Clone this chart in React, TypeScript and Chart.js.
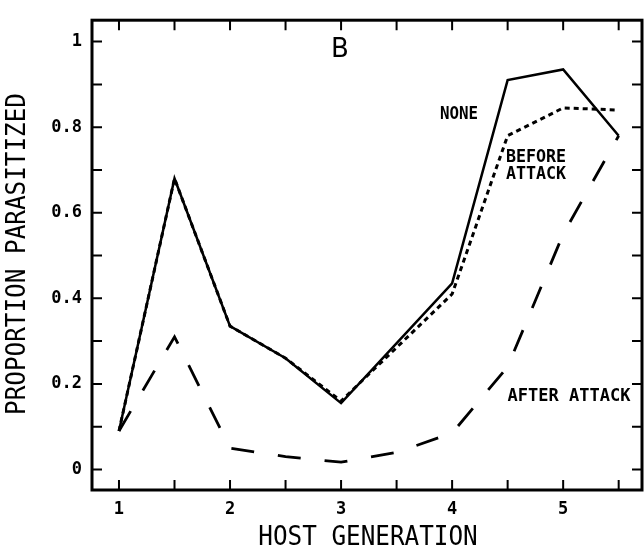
import React, { useEffect, useRef } from "react";
import { Chart, registerables } from "chart.js";

Chart.register(...registerables);

// Host generation (x) and proportion parasitized (y) for the three treatments
const noneGenerations = [1, 1.5, 2, 2.5, 3, 4, 4.5, 5, 5.5];
const noneValues = [0.09, 0.68, 0.335, 0.26, 0.155, 0.435, 0.91, 0.935, 0.78];

const beforeGenerations = [1, 1.5, 2, 2.5, 3, 4, 4.5, 5, 5.5];
const beforeValues = [0.09, 0.68, 0.335, 0.26, 0.16, 0.41, 0.78, 0.845, 0.84];

const afterGenerations = [1, 1.5, 2, 2.5, 3, 3.5, 4, 4.5, 5, 5.5];
const afterValues = [0.09, 0.31, 0.05, 0.03, 0.017, 0.04, 0.085, 0.24, 0.55, 0.78];

// Axis ticks
const xTickValues = [1, 2, 3, 4, 5];
const xTickLabels = ["1", "2", "3", "4", "5"];
const xMarkValues = [1, 1.5, 2, 2.5, 3, 3.5, 4, 4.5, 5, 5.5];
const yTickValues = [0, 0.2, 0.4, 0.6, 0.8, 1];
const yTickLabels = ["0", "0.2", "0.4", "0.6", "0.8", "1"];
const yMarkValues = [0, 0.1, 0.2, 0.3, 0.4, 0.5, 0.6, 0.7, 0.8, 0.9, 1];

const MONO = "'DejaVu Sans Mono', 'Liberation Mono', monospace";

function drawText(
  ctx: CanvasRenderingContext2D,
  text: string,
  x: number,
  y: number,
  font: string,
  sx = 1,
  rotate = 0
) {
  ctx.save();
  ctx.translate(x, y);
  if (rotate) ctx.rotate(rotate);
  ctx.scale(sx, 1);
  ctx.font = font;
  ctx.fillStyle = "#000";
  ctx.textAlign = "center";
  ctx.textBaseline = "middle";
  ctx.fillText(text, 0, 0);
  ctx.restore();
}

// Frame with inward tick marks on all four sides, plus titles and curve labels
const framePlugin = {
  id: "frameAndLabels",
  afterDraw(chart: any) {
    const { ctx, chartArea } = chart;
    const { left, right, top, bottom } = chartArea;
    const xs = chart.scales.x;
    const ys = chart.scales.y;
    const tick = 10;

    ctx.save();
    ctx.strokeStyle = "#000";
    ctx.lineWidth = 3;
    ctx.strokeRect(left, top, right - left, bottom - top);

    ctx.lineWidth = 2;
    ctx.beginPath();
    for (const v of xMarkValues) {
      const px = xs.getPixelForValue(v);
      ctx.moveTo(px, bottom);
      ctx.lineTo(px, bottom - tick);
      ctx.moveTo(px, top);
      ctx.lineTo(px, top + tick);
    }
    for (const v of yMarkValues) {
      const py = ys.getPixelForValue(v);
      ctx.moveTo(left, py);
      ctx.lineTo(left + tick, py);
      ctx.moveTo(right, py);
      ctx.lineTo(right - tick, py);
    }
    ctx.stroke();
    ctx.restore();

    // Axis titles
    drawText(ctx, "HOST GENERATION", 368, 538, `27px ${MONO}`, 0.9);
    drawText(ctx, "PROPORTION PARASITIZED", 18, 254, `27px ${MONO}`, 0.9, -Math.PI / 2);

    // Panel letter and curve labels
    drawText(ctx, "B", 340, 50, "26px 'DejaVu Sans', sans-serif");
    const lab = `bold 17px ${MONO}`;
    drawText(ctx, "NONE", 459, 115, lab, 0.93);
    drawText(ctx, "BEFORE", 536, 158, lab, 0.98);
    drawText(ctx, "ATTACK", 536, 175, lab, 0.98);
    drawText(ctx, "AFTER ATTACK", 569, 397, lab, 1.0);
  },
};

function toPoints(xs: number[], ys: number[]) {
  return xs.map((x, i) => ({ x, y: ys[i] }));
}

export default function App() {
  const canvasRef = useRef<HTMLCanvasElement | null>(null);

  useEffect(() => {
    if (!canvasRef.current) return;
    const tickFont = { family: MONO, size: 17, weight: "bold" as const };

    const chart = new Chart(canvasRef.current, {
      type: "line",
      data: {
        datasets: [
          {
            label: "NONE",
            data: toPoints(noneGenerations, noneValues),
            borderColor: "#000",
            borderWidth: 2.5,
            pointRadius: 0,
            tension: 0,
            fill: false,
          },
          {
            label: "BEFORE ATTACK",
            data: toPoints(beforeGenerations, beforeValues),
            borderColor: "#000",
            borderWidth: 3,
            borderDash: [5, 4],
            pointRadius: 0,
            tension: 0,
            fill: false,
          },
          {
            label: "AFTER ATTACK",
            data: toPoints(afterGenerations, afterValues),
            borderColor: "#000",
            borderWidth: 2.8,
            borderDash: [23, 24],
            pointRadius: 0,
            tension: 0,
            fill: false,
          },
        ],
      },
      options: {
        animation: false,
        responsive: false,
        maintainAspectRatio: false,
        layout: { padding: { top: 9, right: 2, left: 0, bottom: 0 } },
        plugins: {
          legend: { display: false },
          tooltip: { enabled: false },
        },
        scales: {
          x: {
            type: "linear",
            min: 0.757,
            max: 5.71,
            grid: { display: false, drawTicks: false },
            border: { display: false },
            afterBuildTicks: (s: any) => {
              s.ticks = xTickValues.map((v) => ({ value: v }));
            },
            afterFit: (s: any) => {
              s.height = 61;
            },
            ticks: {
              color: "#000",
              font: tickFont,
              padding: 9,
              maxRotation: 0,
              autoSkip: false,
              callback: (_v: any, i: number) => xTickLabels[i],
            },
          },
          y: {
            type: "linear",
            min: -0.048,
            max: 1.05,
            grid: { display: false, drawTicks: false },
            border: { display: false },
            afterBuildTicks: (s: any) => {
              s.ticks = yTickValues.map((v) => ({ value: v }));
            },
            afterFit: (s: any) => {
              s.width = 92;
            },
            ticks: {
              color: "#000",
              font: tickFont,
              padding: 10,
              autoSkip: false,
              callback: (_v: any, i: number) => yTickLabels[i],
            },
          },
        },
      },
      plugins: [framePlugin],
    });

    return () => chart.destroy();
  }, []);

  return (
    <div style={{ position: "absolute", left: 0, top: 0, width: 644, height: 551, background: "#fff" }}>
      <canvas ref={canvasRef} width={644} height={551} style={{ display: "block" }} />
    </div>
  );
}
